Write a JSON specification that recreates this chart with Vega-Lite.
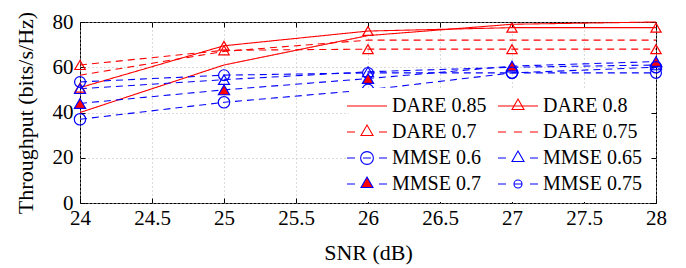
{
  "$schema": "https://vega.github.io/schema/vega-lite/v6.json",
  "width": 576,
  "height": 181,
  "autosize": "none",
  "padding": {"left": 80, "top": 22, "right": 30, "bottom": 65},
  "config": {
    "view": {"stroke": "black", "strokeWidth": 1},
    "font": "Liberation Serif, Times New Roman, serif",
    "axis": {"labelFont": "Liberation Serif, Times New Roman, serif", "titleFont": "Liberation Serif, Times New Roman, serif", "labelFontSize": 21, "titleFontSize": 22, "titleFontWeight": "normal", "labelColor": "black", "titleColor": "black", "domain": false, "tickColor": "black", "tickSize": -5, "tickWidth": 1},
    "legend": {"labelFont": "Liberation Serif, Times New Roman, serif"}
  },
  "data": {"values": [
    {"snr": 24, "thr": 40, "series": "DARE 0.85"},
    {"snr": 25, "thr": 61, "series": "DARE 0.85"},
    {"snr": 26, "thr": 74, "series": "DARE 0.85"},
    {"snr": 27, "thr": 79, "series": "DARE 0.85"},
    {"snr": 28, "thr": 80, "series": "DARE 0.85"},
    {"snr": 24, "thr": 51, "series": "DARE 0.8"},
    {"snr": 25, "thr": 69.5, "series": "DARE 0.8"},
    {"snr": 26, "thr": 76, "series": "DARE 0.8"},
    {"snr": 27, "thr": 77.5, "series": "DARE 0.8"},
    {"snr": 28, "thr": 77.5, "series": "DARE 0.8"},
    {"snr": 24, "thr": 61, "series": "DARE 0.7"},
    {"snr": 25, "thr": 67.5, "series": "DARE 0.7"},
    {"snr": 26, "thr": 68, "series": "DARE 0.7"},
    {"snr": 27, "thr": 68, "series": "DARE 0.7"},
    {"snr": 28, "thr": 68, "series": "DARE 0.7"},
    {"snr": 24, "thr": 56.5, "series": "DARE 0.75"},
    {"snr": 25, "thr": 67, "series": "DARE 0.75"},
    {"snr": 26, "thr": 72, "series": "DARE 0.75"},
    {"snr": 27, "thr": 72, "series": "DARE 0.75"},
    {"snr": 28, "thr": 72, "series": "DARE 0.75"},
    {"snr": 24, "thr": 53.5, "series": "MMSE 0.6"},
    {"snr": 25, "thr": 56.5, "series": "MMSE 0.6"},
    {"snr": 26, "thr": 57.5, "series": "MMSE 0.6"},
    {"snr": 27, "thr": 57.5, "series": "MMSE 0.6"},
    {"snr": 28, "thr": 57.5, "series": "MMSE 0.6"},
    {"snr": 24, "thr": 50.5, "series": "MMSE 0.65"},
    {"snr": 25, "thr": 54.5, "series": "MMSE 0.65"},
    {"snr": 26, "thr": 58, "series": "MMSE 0.65"},
    {"snr": 27, "thr": 60, "series": "MMSE 0.65"},
    {"snr": 28, "thr": 61, "series": "MMSE 0.65"},
    {"snr": 24, "thr": 44, "series": "MMSE 0.7"},
    {"snr": 25, "thr": 50, "series": "MMSE 0.7"},
    {"snr": 26, "thr": 55, "series": "MMSE 0.7"},
    {"snr": 27, "thr": 60.5, "series": "MMSE 0.7"},
    {"snr": 28, "thr": 62.5, "series": "MMSE 0.7"},
    {"snr": 24, "thr": 37, "series": "MMSE 0.75"},
    {"snr": 25, "thr": 44.5, "series": "MMSE 0.75"},
    {"snr": 26, "thr": 50, "series": "MMSE 0.75"},
    {"snr": 27, "thr": 57.5, "series": "MMSE 0.75"},
    {"snr": 28, "thr": 60, "series": "MMSE 0.75"}
  ]},
  "layer": [
    {
      "mark": {"type": "line", "strokeWidth": 1.1, "clip": false},
      "encoding": {
        "x": {"field": "snr", "type": "quantitative", "scale": {"domain": [24, 28], "nice": false, "zero": false},
              "axis": {"orient": "bottom", "title": "SNR (dB)", "values": [24, 24.5, 25, 25.5, 26, 26.5, 27, 27.5, 28], "format": "~g", "labelPadding": 9, "titlePadding": 14, "grid": true, "gridColor": "#b8b8b8", "gridDash": [1, 3], "gridWidth": 1, "labelFlush": false}},
        "y": {"field": "thr", "type": "quantitative", "scale": {"domain": [0, 80], "nice": false},
              "axis": {"orient": "left", "title": "Throughput (bits/s/Hz)", "values": [0, 20, 40, 60, 80], "labelPadding": 12, "titlePadding": 15, "grid": true, "gridColor": "#b8b8b8", "gridDash": [1, 3], "gridWidth": 1}},
        "detail": {"field": "series"},
        "stroke": {"field": "series", "type": "nominal", "legend": null,
                   "scale": {"domain": ["DARE 0.85", "DARE 0.8", "DARE 0.7", "DARE 0.75", "MMSE 0.6", "MMSE 0.65", "MMSE 0.7", "MMSE 0.75"],
                             "range": ["#ff0000", "#ff0000", "#ff0000", "#ff0000", "#0000ff", "#0000ff", "#0000ff", "#0000ff"]}},
        "strokeDash": {"field": "series", "type": "nominal", "legend": null,
                   "scale": {"domain": ["DARE 0.85", "DARE 0.8", "DARE 0.7", "DARE 0.75", "MMSE 0.6", "MMSE 0.65", "MMSE 0.7", "MMSE 0.75"],
                             "range": [[1, 0], [1, 0], [7, 5], [7, 5], [7, 5], [7, 5], [7, 5], [7, 5]]}}
      }
    },
    {
      "transform": [{"filter": {"not": {"field": "series", "oneOf": ["DARE 0.85", "DARE 0.75"]}}}],
      "mark": {"type": "point", "strokeWidth": 1.2, "opacity": 1, "clip": false},
      "encoding": {
        "x": {"field": "snr", "type": "quantitative", "axis": {"orient": "top", "labels": false, "title": null, "grid": false, "values": [24, 24.5, 25, 25.5, 26, 26.5, 27, 27.5, 28]}},
        "y": {"field": "thr", "type": "quantitative", "axis": {"orient": "right", "labels": false, "title": null, "grid": false, "values": [0, 20, 40, 60, 80]}},
        "shape": {"field": "series", "type": "nominal", "legend": null,
                  "scale": {"domain": ["DARE 0.85", "DARE 0.8", "DARE 0.7", "DARE 0.75", "MMSE 0.6", "MMSE 0.65", "MMSE 0.7", "MMSE 0.75"],
                            "range": ["circle", "triangle-up", "triangle-up", "circle", "circle", "triangle-up", "triangle-up", "circle"]}},
        "size": {"field": "series", "type": "nominal", "legend": null,
                 "scale": {"domain": ["DARE 0.85", "DARE 0.8", "DARE 0.7", "DARE 0.75", "MMSE 0.6", "MMSE 0.65", "MMSE 0.7", "MMSE 0.75"],
                           "range": [100, 130, 130, 100, 160, 110, 130, 64]}},
        "stroke": {"field": "series", "type": "nominal", "legend": null,
                   "scale": {"domain": ["DARE 0.85", "DARE 0.8", "DARE 0.7", "DARE 0.75", "MMSE 0.6", "MMSE 0.65", "MMSE 0.7", "MMSE 0.75"],
                             "range": ["#ff0000", "#ff0000", "#ff0000", "#ff0000", "#0000ff", "#0000ff", "#0000ff", "#0000ff"]}},
        "fill": {"field": "series", "type": "nominal", "legend": null,
                 "scale": {"domain": ["DARE 0.85", "DARE 0.8", "DARE 0.7", "DARE 0.75", "MMSE 0.6", "MMSE 0.65", "MMSE 0.7", "MMSE 0.75"],
                           "range": ["transparent", "transparent", "transparent", "transparent", "transparent", "transparent", "#ff0000", "transparent"]}}
      }
    },
    {
      "mark": {"type": "point", "opacity": 0, "strokeWidth": 1.1},
      "encoding": {
        "x": {"field": "snr", "type": "quantitative", "axis": null},
        "y": {"field": "thr", "type": "quantitative", "axis": null},
        "shape": {"field": "series", "type": "nominal",
                  "scale": {"domain": ["DARE 0.85", "DARE 0.7", "MMSE 0.6", "MMSE 0.7", "DARE 0.8", "DARE 0.75", "MMSE 0.65", "MMSE 0.75"],
                            "range": [
                              "M-5,0H5",
                              "M-5,0H-3M3,0H5M0,-1.732L1.5,0.866L-1.5,0.866Z",
                              "M-5,0H-3M-1,0H1M3,0H5M1.6,0A1.6,1.6,0,1,1,-1.6,0A1.6,1.6,0,1,1,1.6,0Z",
                              "M-5,0H-3M3,0H5M0,-1.732L1.5,0.866L-1.5,0.866Z",
                              "M-5,0H5M0,-1.732L1.5,0.866L-1.5,0.866Z",
                              "M-5,0H-3M-1,0H1M3,0H5",
                              "M-5,0H-3M3,0H5M0,-1.732L1.5,0.866L-1.5,0.866Z",
                              "M-5,0H-3M-1,0H1M3,0H5M1,0A1,1,0,1,1,-1,0A1,1,0,1,1,1,0Z"
                            ]},
                  "legend": {"title": null, "orient": "none", "legendX": 269, "legendY": 66, "columns": 2, "columnPadding": 8, "rowPadding": 6, "padding": 8, "fillColor": "white", "strokeColor": null, "symbolSize": 64, "symbolOpacity": 1, "symbolStrokeWidth": 1.1, "symbolFillColor": "transparent", "symbolStrokeColor": "black", "labelOffset": 15, "labelFont": "Liberation Serif, Times New Roman, serif", "labelFontSize": 20, "labelColor": "black", "labelLimit": 200}},
        "stroke": {"field": "series", "type": "nominal",
                   "scale": {"domain": ["DARE 0.85", "DARE 0.7", "MMSE 0.6", "MMSE 0.7", "DARE 0.8", "DARE 0.75", "MMSE 0.65", "MMSE 0.75"],
                             "range": ["#ff0000", "#ff0000", "#0000ff", "#0000ff", "#ff0000", "#ff0000", "#0000ff", "#0000ff"]},
                   "legend": {"title": null, "orient": "none", "legendX": 269, "legendY": 66, "columns": 2, "columnPadding": 8, "rowPadding": 6, "padding": 8, "fillColor": "white", "strokeColor": null, "symbolSize": 64, "symbolOpacity": 1, "symbolStrokeWidth": 1.1, "symbolFillColor": "transparent", "symbolStrokeColor": "black", "labelOffset": 15, "labelFont": "Liberation Serif, Times New Roman, serif", "labelFontSize": 20, "labelColor": "black", "labelLimit": 200}},
        "fill": {"field": "series", "type": "nominal",
                 "scale": {"domain": ["DARE 0.85", "DARE 0.7", "MMSE 0.6", "MMSE 0.7", "DARE 0.8", "DARE 0.75", "MMSE 0.65", "MMSE 0.75"],
                           "range": ["transparent", "transparent", "transparent", "#ff0000", "transparent", "transparent", "transparent", "transparent"]},
                 "legend": {"title": null, "orient": "none", "legendX": 269, "legendY": 66, "columns": 2, "columnPadding": 8, "rowPadding": 6, "padding": 8, "fillColor": "white", "strokeColor": null, "symbolSize": 64, "symbolOpacity": 1, "symbolStrokeWidth": 1.1, "symbolFillColor": "transparent", "symbolStrokeColor": "black", "labelOffset": 15, "labelFont": "Liberation Serif, Times New Roman, serif", "labelFontSize": 20, "labelColor": "black", "labelLimit": 200}}
      }
    }
  ],
  "resolve": {
    "scale": {"stroke": "independent", "fill": "independent", "shape": "independent", "size": "independent", "strokeDash": "independent"},
    "axis": {"x": "independent", "y": "independent"},
    "legend": {"stroke": "independent", "fill": "independent", "shape": "independent"}
  }
}
